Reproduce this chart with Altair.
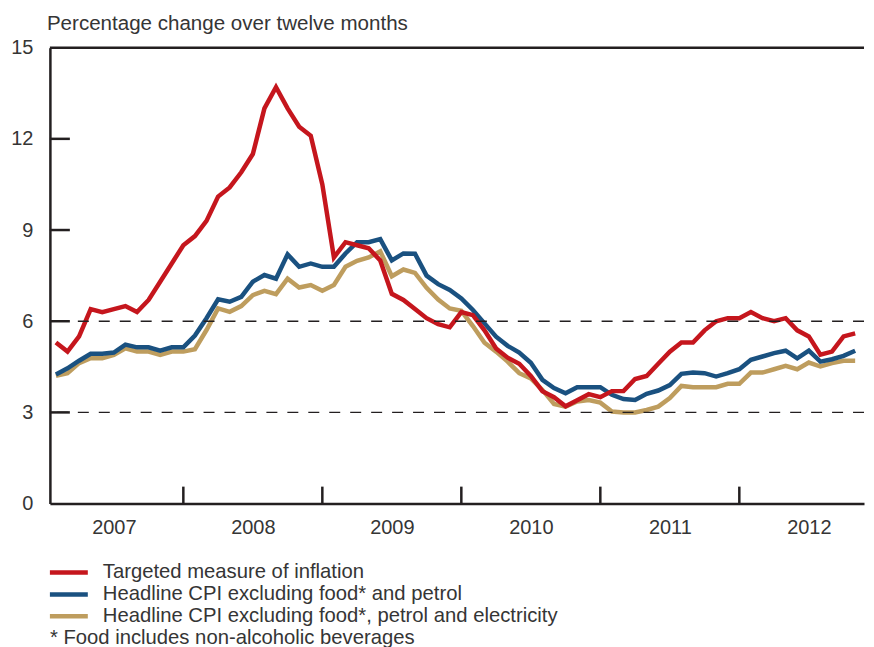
import altair as alt
import pandas as pd

# ---------------- data ----------------
series_names = [
    "Targeted measure of inflation",
    "Headline CPI excluding food* and petrol",
    "Headline CPI excluding food*, petrol and electricity",
]
footnote = "* Food includes non-alcoholic beverages"
title_text = "Percentage change over twelve months"
colors = ["#C5161D", "#1A5180", "#BE9D5E"]

start_year = 2007
n_months = 70  # Jan 2007 .. Oct 2012
year_labels = [2007, 2008, 2009, 2010, 2011, 2012]
year_ticks = [2008, 2009, 2010, 2011, 2012]
y_values = [0, 3, 6, 9, 12, 15]
y_ticks = [3, 6, 9, 12]
target_band = [3, 6]

targeted = [
    5.3, 5.0, 5.5, 6.4, 6.3, 6.4, 6.5, 6.3, 6.7, 7.3, 7.9, 8.5,
    8.8, 9.3, 10.1, 10.4, 10.9, 11.5, 13.0, 13.7, 13.0, 12.4, 12.1, 10.5,
    8.1, 8.6, 8.5, 8.4, 8.0, 6.9, 6.7, 6.4, 6.1, 5.9, 5.8, 6.3,
    6.2, 5.7, 5.1, 4.8, 4.6, 4.2, 3.7, 3.5, 3.2, 3.4, 3.6, 3.5,
    3.7, 3.7, 4.1, 4.2, 4.6, 5.0, 5.3, 5.3, 5.7, 6.0, 6.1, 6.1,
    6.3, 6.1, 6.0, 6.1, 5.7, 5.5, 4.9, 5.0, 5.5, 5.6,
]
excl_food_petrol = [
    4.25, 4.45, 4.7, 4.93, 4.93, 4.97, 5.23, 5.14, 5.14, 5.03, 5.14, 5.14,
    5.53, 6.1, 6.72, 6.64, 6.8, 7.3, 7.52, 7.4, 8.2, 7.79, 7.9, 7.79,
    7.79, 8.23, 8.6, 8.6, 8.7, 8.0, 8.23, 8.22, 7.5, 7.22, 7.03, 6.75,
    6.37, 5.93, 5.49, 5.19, 4.97, 4.63, 4.07, 3.8, 3.63, 3.83, 3.83, 3.83,
    3.58, 3.44, 3.41, 3.61, 3.72, 3.9, 4.27, 4.31, 4.29, 4.18, 4.29, 4.42,
    4.73, 4.84, 4.95, 5.03, 4.78, 5.03, 4.67, 4.75, 4.86, 5.03,
]
excl_food_petrol_elec = [
    4.2, 4.29, 4.62, 4.78, 4.78, 4.89, 5.11, 5.0, 5.0, 4.89, 5.0, 5.0,
    5.08, 5.71, 6.42, 6.31, 6.5, 6.86, 7.0, 6.89, 7.4, 7.11, 7.19, 7.0,
    7.19, 7.79, 7.99, 8.1, 8.3, 7.48, 7.7, 7.59, 7.1, 6.71, 6.42, 6.34,
    5.84, 5.29, 5.0, 4.67, 4.29, 4.12, 3.74, 3.28, 3.19, 3.36, 3.41, 3.32,
    3.03, 3.0, 3.0, 3.08, 3.19, 3.47, 3.87, 3.83, 3.83, 3.83, 3.94, 3.94,
    4.31, 4.31, 4.42, 4.53, 4.42, 4.64, 4.51, 4.62, 4.7, 4.7,
]

# month-end position in fractional years
t_values = [start_year + (k + 1) / 12 for k in range(n_months)]

rows = []
for name, vals in zip(series_names, [targeted, excl_food_petrol, excl_food_petrol_elec]):
    for t, v in zip(t_values, vals):
        rows.append({"t": t, "value": v, "series": name})
df = pd.DataFrame(rows)

# ---------------- styling ----------------
W, H = 816, 457
INK = "#231f20"
TXT = "#353535"
FONT = "Liberation Sans"
LW = 4.5

xscale = alt.Scale(domain=[2007.04, 2012.897], nice=False, zero=False)
yscale = alt.Scale(domain=[0, 15], nice=False, zero=True)

x_axis = alt.Axis(
    values=[y + 0.5 for y in year_labels],
    labelExpr="'' + floor(datum.value)",
    ticks=False, tickSize=0, grid=False, title=None,
    domain=True, domainColor=INK, domainWidth=2.5,
    labelFontSize=20, labelPadding=14, labelColor=TXT, labelFont=FONT,
)
y_axis = alt.Axis(
    values=y_values, format="d",
    ticks=False, tickSize=0, grid=False, title=None,
    domain=True, domainColor=INK, domainWidth=2.5,
    labelFontSize=20, labelPadding=17, labelColor=TXT, labelFont=FONT,
    minExtent=42, maxExtent=42,
)

band = alt.Chart(pd.DataFrame({"level": target_band})).mark_rule(
    color=INK, strokeWidth=1.4, strokeDash=[11, 10]
).encode(y=alt.Y("level:Q", scale=yscale, axis=y_axis))

top_border = alt.Chart(pd.DataFrame({"level": [y_values[-1]]})).mark_rule(
    color=INK, strokeWidth=2.5
).encode(y=alt.Y("level:Q", scale=yscale, axis=y_axis))

ytick_layer = alt.Chart(pd.DataFrame({"level": y_ticks})).mark_rule(
    color=INK, strokeWidth=2.5
).encode(
    y=alt.Y("level:Q", scale=yscale, axis=y_axis),
    x=alt.value(0), x2=alt.value(20),
)

xtick_layer = alt.Chart(pd.DataFrame({"t": year_ticks})).mark_rule(
    color=INK, strokeWidth=2.5
).encode(
    x=alt.X("t:Q", scale=xscale, axis=x_axis),
    y=alt.value(H), y2=alt.value(H - 17),
)

line_layers = []
for name, color in reversed(list(zip(series_names, colors))):
    line_layers.append(
        alt.Chart(df)
        .transform_filter(alt.datum.series == name)
        .mark_line(color=color, strokeWidth=LW, strokeJoin="miter")
        .encode(
            x=alt.X("t:Q", scale=xscale, axis=x_axis),
            y=alt.Y("value:Q", scale=yscale, axis=y_axis),
        )
    )

main = alt.layer(*line_layers, band, top_border, ytick_layer, xtick_layer).properties(
    width=W, height=H,
    title=alt.TitleParams(
        title_text, anchor="start", frame="group", fontSize=20.6, fontWeight="normal",
        color=TXT, font=FONT, dx=-3, offset=3,
    ),
)

# ---------------- legend ----------------
legend_rows = series_names + [footnote]
leg_y = alt.Y(
    "row:N",
    scale=alt.Scale(type="band", domain=legend_rows, paddingInner=0, paddingOuter=0),
    axis=None, bandPosition=0.5,
)
leg_df = pd.DataFrame({"row": series_names})

swatches = alt.Chart(leg_df).mark_rule(strokeWidth=LW).encode(
    y=leg_y, x=alt.value(0), x2=alt.value(38),
    color=alt.Color("row:N", scale=alt.Scale(domain=series_names, range=colors), legend=None),
)
leg_labels = alt.Chart(leg_df).mark_text(
    align="left", baseline="middle", fontSize=20.3, color=TXT, font=FONT
).encode(y=leg_y, x=alt.value(53), text="row:N")
foot = alt.Chart(pd.DataFrame({"row": [footnote]})).mark_text(
    align="left", baseline="middle", fontSize=20.3, color=TXT, font=FONT
).encode(y=leg_y, x=alt.value(0), text="row:N")

legend = alt.layer(swatches, leg_labels, foot).properties(width=W, height=88)

chart = (
    alt.vconcat(main, legend, spacing=24)
    .properties(padding={"left": 0, "top": 5, "right": 0, "bottom": 0})
    .configure(font=FONT)
    .configure_view(stroke=None)
)

chart.save("out.html", embed_options={"renderer": "svg", "actions": False})
